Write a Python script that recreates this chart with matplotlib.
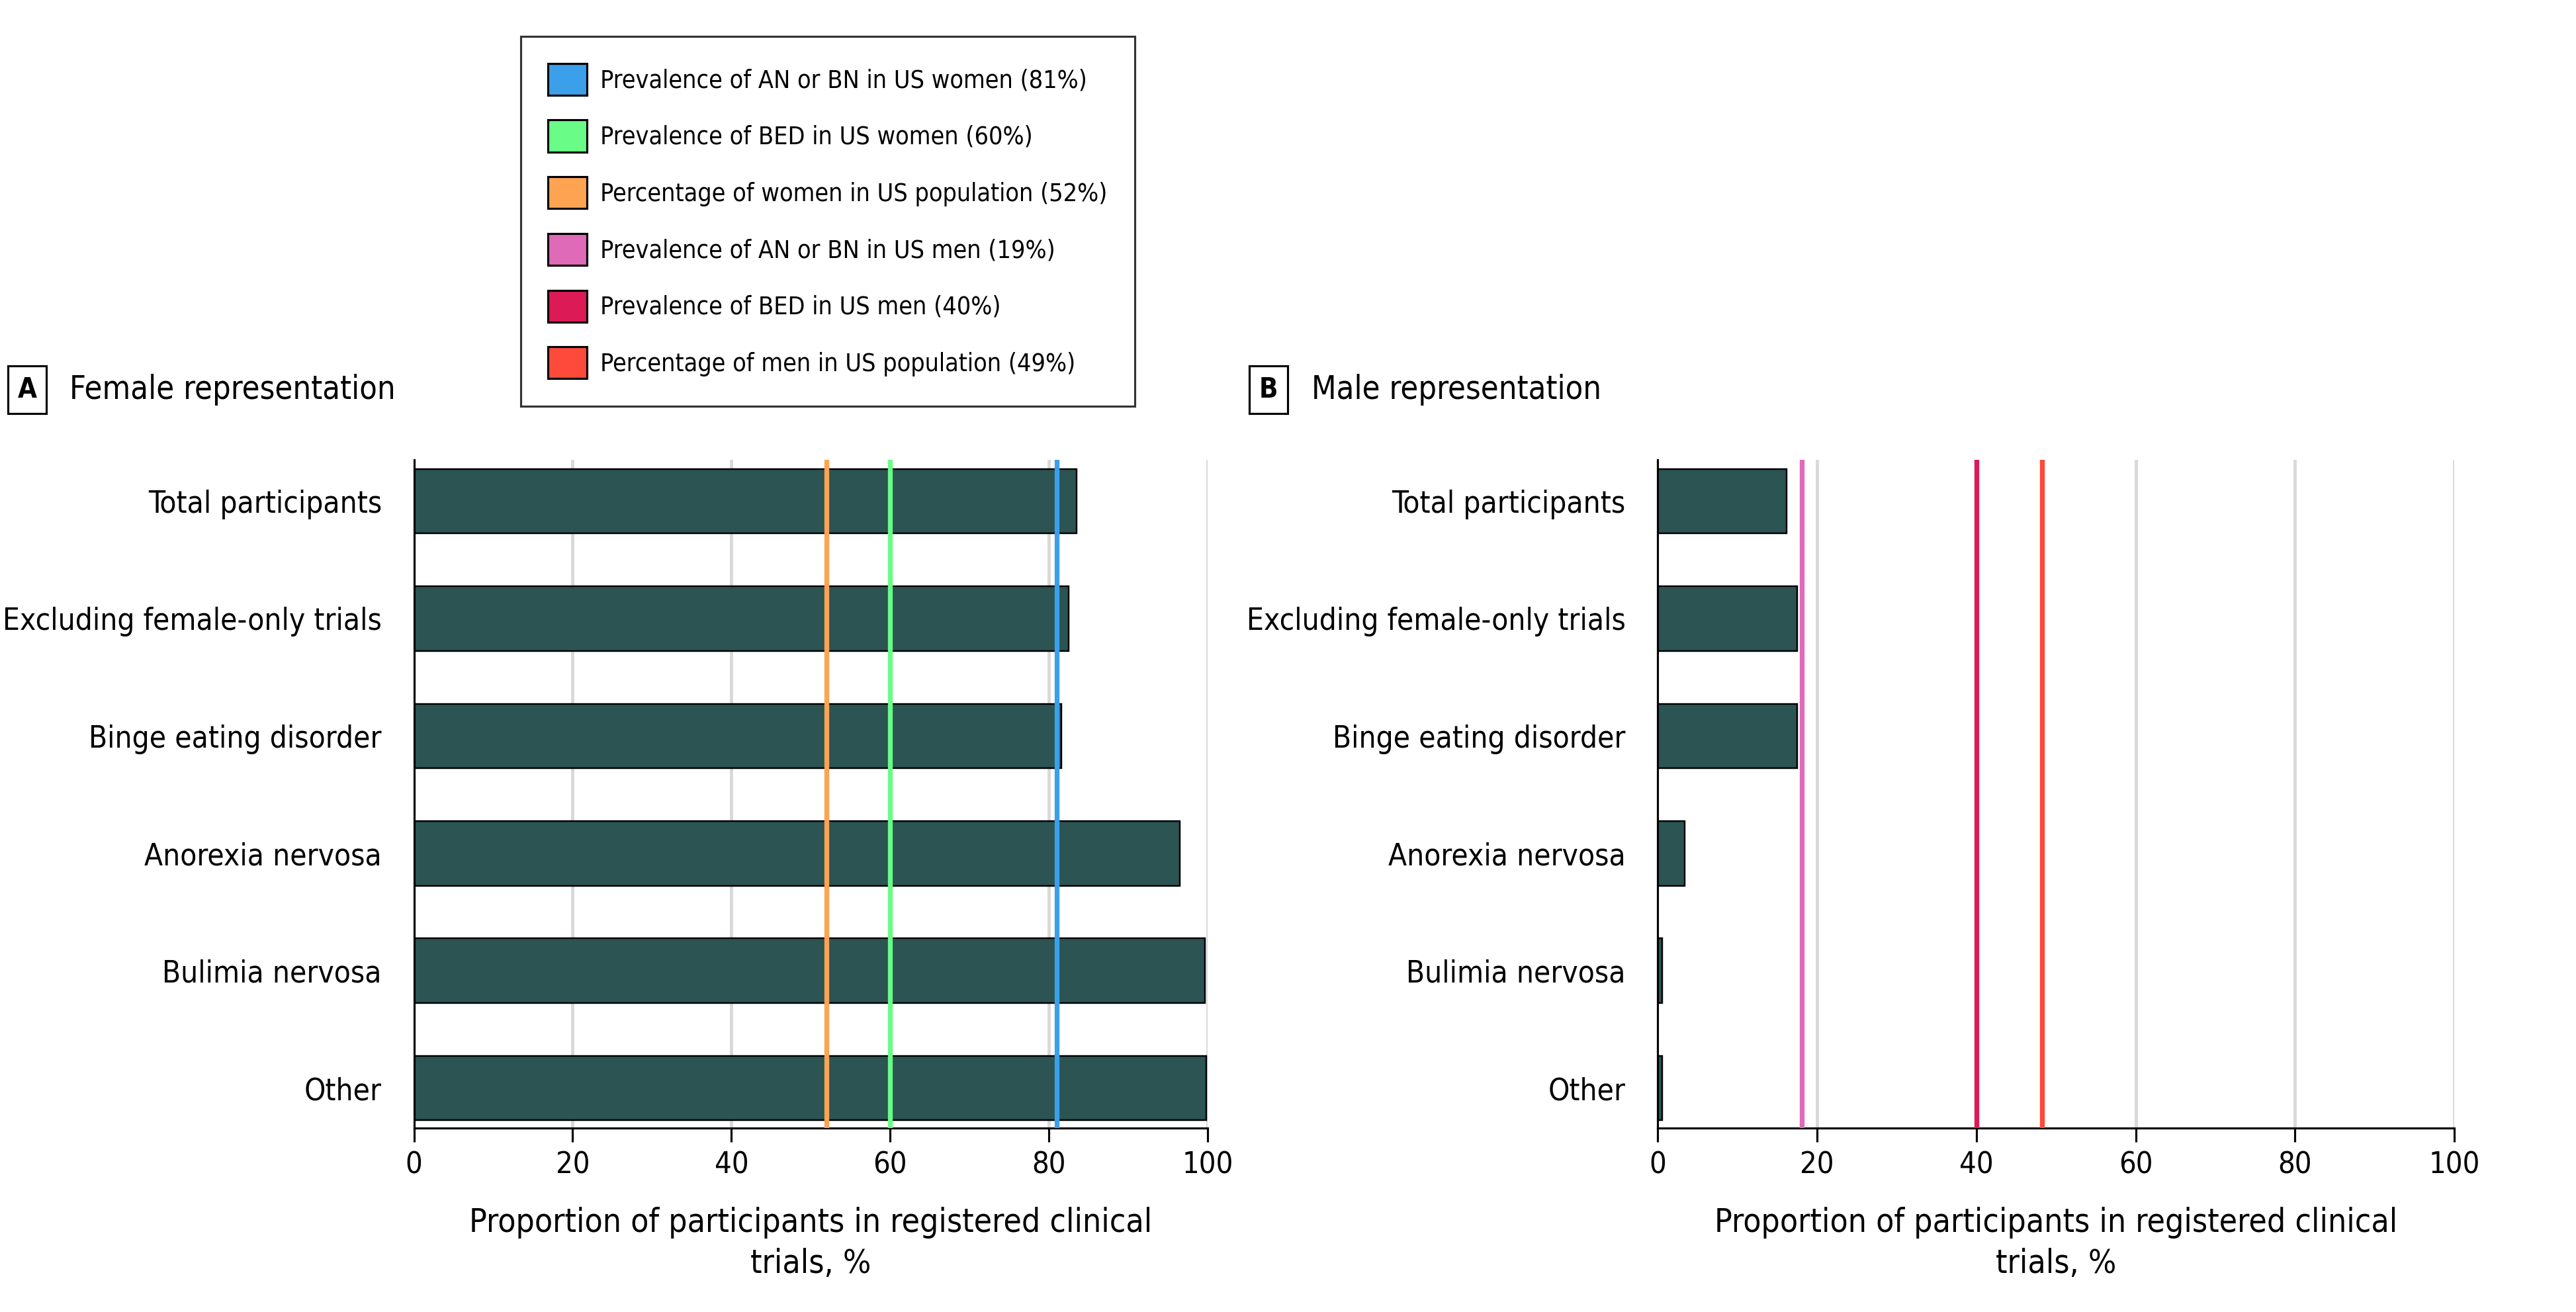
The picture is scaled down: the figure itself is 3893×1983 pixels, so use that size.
import matplotlib.pyplot as plt
from matplotlib import font_manager as fm
from matplotlib.patches import Patch

# pick a condensed face if one is installed, else plain DejaVu Sans
fam, stretch, scale = "DejaVu Sans", "normal", 0.93
for f in fm.fontManager.ttflist:
    if f.name in ("Liberation Sans Narrow", "Noto Sans", "Open Sans", "DejaVu Sans", "Roboto") \
            and str(f.stretch) in ("condensed", "semi-condensed", "75", "87.5"):
        fam, stretch, scale = f.name, "condensed", 1.0
        break
plt.rcParams['font.family'] = [fam, 'DejaVu Sans']
plt.rcParams['font.stretch'] = stretch

# Data
categories = ["Total participants", "Excluding female-only trials", "Binge eating disorder",
              "Anorexia nervosa", "Bulimia nervosa", "Other"]
female_pct = [83.5, 82.5, 81.6, 96.5, 99.7, 99.8]
male_pct = [16.2, 17.5, 17.5, 3.4, 0.6, 0.6]

female_refs = [81, 60, 52]
female_ref_colors = ["#3C9FEA", "#69FC87", "#FDA352"]
male_refs = [18.1, 40, 48.2]
male_ref_colors = ["#DE6AB8", "#DC1A55", "#FE4A3A"]

legend_labels = ["Prevalence of AN or BN in US women (81%)",
                 "Prevalence of BED in US women (60%)",
                 "Percentage of women in US population (52%)",
                 "Prevalence of AN or BN in US men (19%)",
                 "Prevalence of BED in US men (40%)",
                 "Percentage of men in US population (49%)"]

bar_color = "#2B5453"
xticks = [0, 20, 40, 60, 80, 100]
xlabel = "Proportion of participants in registered clinical\ntrials, %"

fs = 13.2 * scale

fig = plt.figure(figsize=(3893 / 250, 1983 / 250), dpi=250)

ax_a = fig.add_axes([0.1607, 0.1402, 0.3081, 0.5094])
ax_b = fig.add_axes([0.6435, 0.1402, 0.3093, 0.5094])


def draw_panel(ax, values, refs, ref_colors):
    y = list(range(len(categories)))
    for g in xticks[1:]:
        ax.axvline(g, color="#d9d9d9", lw=1.4, zorder=0)
    ax.barh(y, values, height=0.55, color=bar_color, edgecolor="black", lw=0.7, zorder=2)
    for v, c in zip(refs, ref_colors):
        ax.axvline(v, color=c, lw=2.1, zorder=3)
    ax.set_xlim(0, 100)
    ax.set_ylim(5.34, -0.353)
    ax.set_yticks(y)
    ax.set_yticklabels(categories, fontsize=fs)
    ax.set_xticks(xticks)
    ax.tick_params(axis="y", length=0, pad=14)
    ax.tick_params(axis="x", length=6, width=0.9, labelsize=13 * scale, pad=4)
    for s in ["top", "right"]:
        ax.spines[s].set_visible(False)
    for s in ["left", "bottom"]:
        ax.spines[s].set_linewidth(0.9)
    ax.set_xlabel(xlabel, fontsize=14.3 * scale, labelpad=12, linespacing=1.35)


draw_panel(ax_a, female_pct, female_refs, female_ref_colors)
draw_panel(ax_b, male_pct, male_refs, male_ref_colors)

# Panel titles
box = dict(boxstyle="square,pad=0.35", fc="white", ec="black", lw=0.9)
fig.text(0.0105, 0.703, "A", fontsize=12 * scale, fontweight="bold", ha="center", va="center", bbox=box)
fig.text(0.027, 0.703, "Female representation", fontsize=14 * scale, va="center")
fig.text(0.4925, 0.703, "B", fontsize=12 * scale, fontweight="bold", ha="center", va="center", bbox=box)
fig.text(0.509, 0.703, "Male representation", fontsize=14 * scale, va="center")

# Legend
handles = [Patch(facecolor=c, edgecolor="black", lw=0.9)
           for c in female_ref_colors + male_ref_colors]
leg = fig.legend(handles, legend_labels, loc="upper left", bbox_to_anchor=(0.2022, 0.9725),
                 fontsize=10.8 * scale, frameon=True, fancybox=False, edgecolor="black",
                 handlelength=1.55, handleheight=1.6, handletextpad=0.55,
                 labelspacing=1.0, borderpad=1.1, borderaxespad=0)
leg.get_frame().set_linewidth(0.9)

fig.savefig("out.png", dpi=250, facecolor="white")
